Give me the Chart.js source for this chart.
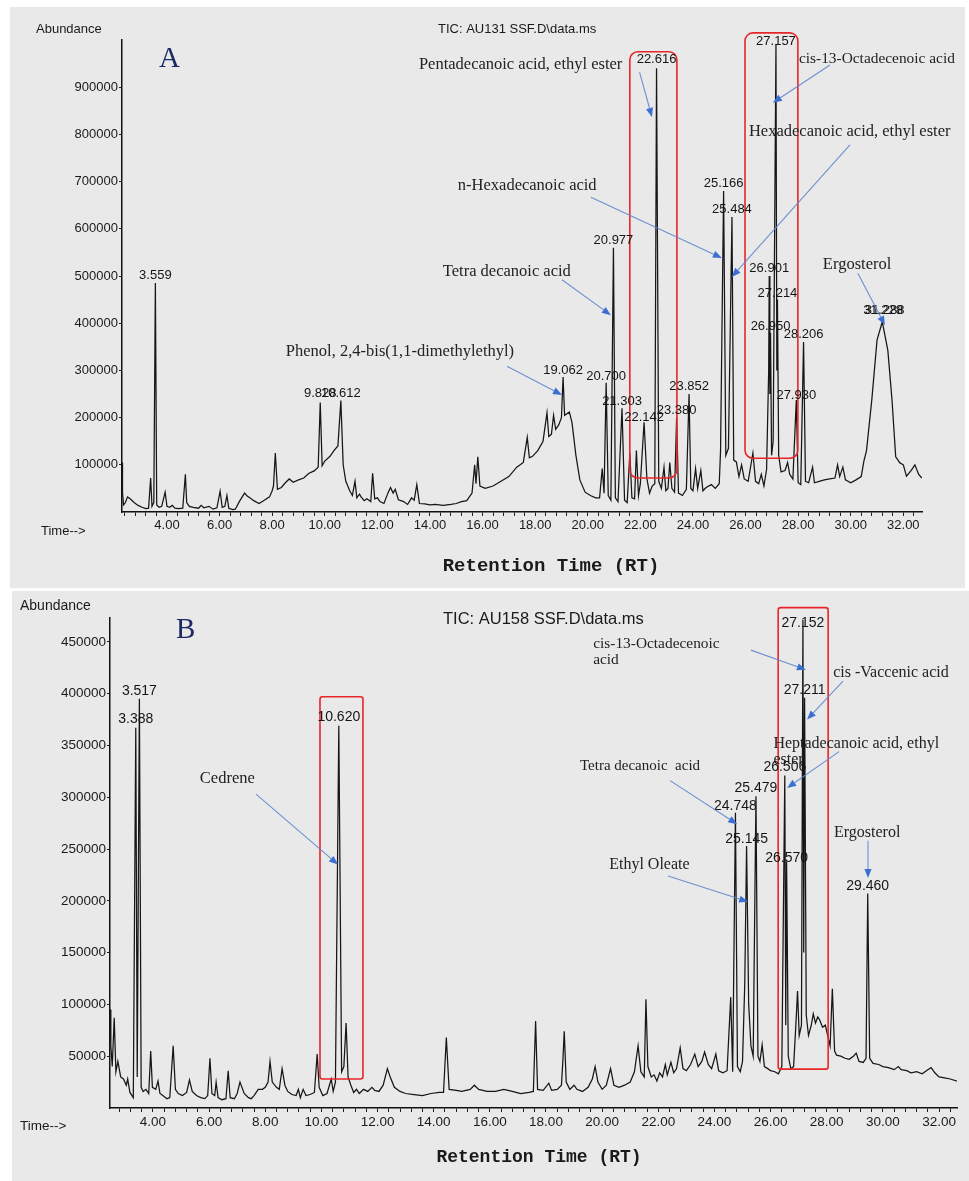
<!DOCTYPE html>
<html><head><meta charset="utf-8">
<script src="https://cdn.jsdelivr.net/npm/chart.js@4.4.1/dist/chart.umd.min.js"></script>
<style>
html,body{margin:0;padding:0;background:#fff;width:969px;height:1181px;overflow:hidden;}
.panel{position:absolute;background:#e9e9e9;}
#pA{left:10px;top:7px;width:955px;height:581px;}
#pB{left:12px;top:591px;width:957px;height:590px;}
canvas{position:absolute;left:0;}
#cA{top:0;} #cB{top:590px;}
</style></head><body>
<div class="panel" id="pA"></div><div class="panel" id="pB"></div>
<canvas id="cA" width="969" height="590"></canvas>
<canvas id="cB" width="969" height="591"></canvas>
<script>
// ---------- DATA ----------
// Panel A : TIC AU131 — retention time (min) and abundance
const rtA = [
 2.29,2.31,2.35,2.42,2.5,2.6,2.75,2.9,3.05,3.2,
 3.3,3.38,3.43,3.5,3.559,3.61,3.7,3.8,3.93,4.0,
 4.1,4.2,4.3,4.45,4.6,4.7,4.75,4.85,5.0,5.2,
 5.3,5.4,5.6,5.75,5.9,6.02,6.1,6.2,6.28,6.35,
 6.5,6.6,6.75,6.95,7.05,7.15,7.3,7.5,7.7,7.9,
 8.0,8.05,8.12,8.2,8.35,8.5,8.65,8.8,9.0,9.2,
 9.4,9.6,9.75,9.828,9.9,10.0,10.2,10.35,10.5,10.612,
 10.7,10.8,10.95,11.05,11.15,11.22,11.32,11.38,11.5,11.6,
 11.75,11.82,11.9,12.0,12.1,12.25,12.4,12.5,12.6,12.68,
 12.8,13.0,13.15,13.3,13.4,13.5,13.6,13.8,14.0,14.2,
 14.5,14.8,15.0,15.2,15.4,15.6,15.7,15.75,15.82,15.9,
 16.1,16.4,16.7,17.0,17.3,17.55,17.7,17.78,17.9,18.1,
 18.3,18.45,18.52,18.62,18.7,18.78,18.9,19.0,19.062,19.12,
 19.3,19.4,19.55,19.7,19.9,20.1,20.3,20.45,20.55,20.62,
 20.7,20.78,20.88,20.977,21.05,21.15,21.303,21.4,21.5,21.6,
 21.68,21.78,21.85,21.93,22.0,22.142,22.25,22.35,22.45,22.55,
 22.616,22.7,22.8,22.9,22.97,23.05,23.12,23.2,23.3,23.38,
 23.45,23.6,23.75,23.852,23.92,24.0,24.1,24.18,24.3,24.38,
 24.5,24.7,24.85,25.0,25.05,25.166,25.25,25.35,25.484,25.55,
 25.65,25.75,25.85,25.95,26.1,26.28,26.38,26.5,26.6,26.7,
 26.8,26.88,26.901,26.925,26.95,26.99,27.05,27.157,27.19,27.214,
 27.26,27.35,27.5,27.6,27.68,27.8,27.93,28.0,28.1,28.206,
 28.28,28.4,28.55,28.62,28.8,29.0,29.2,29.4,29.5,29.58,
 29.7,29.8,30.0,30.2,30.4,30.5,30.6,30.8,31.0,31.2,
 31.41,31.57,31.71,31.87,32.0,32.12,32.3,32.44,32.58,32.7
];
const abA = [
 105000,40000,15000,20000,32000,28000,20000,14000,10000,7000,
 8000,72000,12000,20000,485000,15000,10000,12000,42000,12000,
 10000,14000,8000,7000,8000,80000,20000,12000,10000,8000,
 14000,9000,12000,6000,9000,44000,10000,12000,35000,8000,
 5000,6000,22000,40000,34000,30000,24000,18000,25000,32000,
 45000,55000,125000,48000,52000,62000,70000,63000,68000,72000,
 82000,87000,95000,232000,98000,108000,118000,130000,140000,236000,
 100000,65000,45000,35000,65000,30000,38000,32000,24000,28000,
 22000,82000,28000,30000,22000,18000,40000,52000,40000,48000,
 26000,22000,16000,30000,25000,58000,18000,17000,15000,16000,
 14000,16000,18000,22000,24000,40000,100000,60000,117000,55000,
 50000,55000,65000,75000,95000,105000,158000,115000,118000,130000,
 150000,210000,160000,165000,205000,175000,185000,200000,286000,205000,
 212000,190000,120000,68000,42000,35000,30000,30000,92000,40000,
 274000,35000,25000,560000,30000,22000,220000,25000,20000,125000,
 30000,28000,130000,35000,60000,190000,70000,40000,55000,60000,
 940000,65000,50000,95000,45000,50000,105000,50000,42000,200000,
 40000,35000,48000,250000,50000,45000,92000,50000,88000,45000,
 52000,58000,50000,60000,130000,680000,120000,135000,625000,110000,
 106000,75000,100000,70000,65000,125000,65000,60000,80000,55000,
 90000,300000,500000,250000,380000,120000,150000,990000,300000,450000,
 120000,85000,88000,105000,80000,70000,237000,62000,58000,360000,
 65000,62000,95000,62000,65000,68000,70000,72000,100000,75000,
 95000,68000,62000,68000,75000,108000,130000,237000,364000,403000,
 343000,237000,117000,104000,100000,76000,88000,100000,80000,72000
];
// Panel B : TIC AU158
const rtB = [
 2.47,2.5,2.55,2.62,2.68,2.75,2.85,2.95,3.05,3.1,
 3.18,3.3,3.388,3.44,3.517,3.58,3.65,3.75,3.85,3.92,
 3.98,4.1,4.18,4.25,4.35,4.5,4.6,4.72,4.8,4.9,
 5.05,5.2,5.3,5.4,5.55,5.7,5.85,5.95,6.03,6.1,
 6.2,6.25,6.32,6.45,6.6,6.68,6.75,6.9,7.0,7.1,
 7.25,7.4,7.5,7.6,7.75,7.9,8.0,8.1,8.17,8.25,
 8.4,8.5,8.6,8.7,8.8,8.95,9.1,9.18,9.25,9.35,
 9.45,9.6,9.75,9.85,9.92,10.05,10.2,10.35,10.42,10.5,
 10.62,10.72,10.8,10.88,10.95,11.05,11.15,11.25,11.35,11.5,
 11.65,11.8,11.9,12.05,12.2,12.35,12.45,12.6,12.8,13.0,
 13.3,13.6,13.9,14.2,14.35,14.45,14.55,14.8,15.0,15.3,
 15.45,15.6,15.9,16.2,16.5,16.8,17.1,17.4,17.55,17.63,
 17.7,17.9,18.1,18.2,18.4,18.55,18.6,18.65,18.72,18.85,
 19.0,19.1,19.3,19.5,19.65,19.75,19.85,20.0,20.15,20.3,
 20.42,20.6,20.8,21.0,21.15,21.28,21.38,21.5,21.56,21.63,
 21.75,21.85,21.95,22.05,22.15,22.25,22.32,22.45,22.55,22.65,
 22.78,22.88,23.0,23.15,23.3,23.42,23.55,23.65,23.78,23.9,
 24.05,24.15,24.3,24.45,24.58,24.65,24.748,24.82,24.92,25.0,
 25.08,25.145,25.22,25.3,25.38,25.479,25.55,25.62,25.7,25.78,
 25.9,26.0,26.15,26.28,26.4,26.506,26.54,26.57,26.63,26.72,
 26.82,26.9,26.96,27.02,27.1,27.152,27.18,27.211,27.27,27.35,
 27.45,27.52,27.6,27.68,27.75,27.85,27.95,28.05,28.12,28.2,
 28.28,28.35,28.5,28.65,28.8,28.95,29.05,29.15,29.3,29.4,
 29.46,29.53,29.65,29.85,30.0,30.2,30.4,30.55,30.65,30.85,
 31.0,31.2,31.4,31.6,31.72,31.85,32.0,32.2,32.4,32.64
];
const abB = [
 95000,60000,40000,87000,35000,45000,30000,28000,22000,28000,
 15000,10000,367000,30000,395000,20000,16000,18000,14000,55000,
 20000,18000,26000,14000,12000,9000,10000,60000,18000,14000,
 12000,15000,27000,16000,12000,10000,9000,12000,48000,14000,
 12000,25000,10000,8000,9000,36000,10000,9000,14000,25000,
 14000,10000,9000,12000,18000,18000,20000,25000,45000,25000,
 20000,18000,38000,22000,16000,13000,12000,18000,10000,18000,
 12000,13000,15000,52000,20000,12000,14000,28000,16000,25000,
 369000,35000,40000,82000,30000,22000,15000,18000,14000,18000,
 16000,20000,17000,16000,22000,38000,30000,20000,16000,14000,
 13000,12000,14000,15000,15000,68000,18000,17000,16000,18000,
 22000,18000,16000,16000,18000,16000,14000,15000,16000,84000,
 18000,17000,24000,17000,18000,22000,45000,74000,25000,18000,
 22000,18000,16000,20000,28000,40000,25000,18000,22000,38000,
 22000,20000,22000,25000,35000,60000,35000,30000,105000,40000,
 30000,32000,26000,34000,30000,42000,32000,44000,34000,38000,
 58000,38000,36000,42000,52000,40000,45000,54000,42000,38000,
 52000,36000,34000,36000,107000,35000,285000,40000,35000,45000,
 120000,253000,100000,60000,50000,301000,50000,45000,61000,40000,
 38000,36000,35000,33000,40000,321000,80000,238000,50000,38000,
 40000,80000,113000,70000,80000,471000,150000,396000,90000,70000,
 80000,91000,82000,88000,85000,78000,80000,68000,60000,115000,
 55000,51000,50000,48000,47000,50000,53000,45000,44000,48000,
 207000,48000,43000,42000,40000,39000,37000,40000,37000,36000,
 34000,35000,33000,37000,39000,34000,30000,29000,28000,26000
];
// tick labels
const xTickLabels = ['4.00','6.00','8.00','10.00','12.00','14.00','16.00','18.00','20.00','22.00','24.00','26.00','28.00','30.00','32.00'];
const yTickLabelsA = ['100000','200000','300000','400000','500000','600000','700000','800000','900000'];
const yTickLabelsB = ['50000','100000','150000','200000','250000','300000','350000','400000','450000'];
// peak retention-time labels and the abundance level at which each label sits
const peakLabelsA = ['3.559','9.828','10.612','19.062','20.700','20.977','21.303','22.142','22.616','23.380','23.852','25.166','25.484','26.901','26.950','27.157','27.214','27.930','28.206','31.228','31.288'];
const peakLabelAbA = [502000,252000,252000,301000,288000,576000,235000,201000,958000,216000,267000,697000,642000,517000,394000,998000,464000,248000,377000,428000,428000];
const peakLabelsB = ['3.517','3.388','10.620','24.748','25.145','25.479','26.506','26.570','27.152','27.211','29.460'];
const peakLabelAbB = [402000,375000,377000,291000,260000,309000,329000,241000,468000,403000,214000];
// compound names
const compoundsA = ['Pentadecanoic acid, ethyl ester','cis-13-Octadecenoic acid','Hexadecanoic acid, ethyl ester','n-Hexadecanoic acid','Tetra decanoic acid','Phenol, 2,4-bis(1,1-dimethylethyl)','Ergosterol'];
const compoundsB = ['cis-13-Octadecenoic\nacid','cis -Vaccenic acid','Heptadecanoic acid, ethyl\nester','Tetra decanoic  acid','Ethyl Oleate','Cedrene','Ergosterol'];
// highlighted retention windows [rtStart, rtEnd, abTop, abBottom]
const boxesA = [[21.60,23.39,975000,72000],[25.98,27.99,1015000,114000]];
const boxesB = [[9.95,11.48,397000,28000],[26.27,28.05,483000,37500]];

// ---------- annotation placement (data coordinates: text anchor, arrow start -> arrow tip) ----------
const notesA = [
 {t:13.58,v:947000, a:[21.97,932000,22.44,837000]},
 {t:28.03,v:960000, a:[29.21,947000,27.04,867000], fs:15.4},
 {t:26.13,v:805000, a:[29.97,778000,25.48,498000]},
 {t:15.06,v:691000, a:[20.12,667000,25.10,538000]},
 {t:14.49,v:509000, a:[19.02,492000,20.88,417000]},
 {t:8.52, v:339000, a:[16.93,309000,19.02,248000]},
 {t:28.94,v:523000, a:[30.27,506000,31.30,396000]}
];
const notesB = [
 {t:19.68,v:448000, a:[25.30,442000,27.26,423000], fs:15.4},
 {t:28.23,v:420000, a:[28.58,412000,27.30,375000]},
 {t:26.10,v:352000, a:[28.44,344000,26.59,309000]},
 {t:19.21,v:330000, a:[22.42,316000,24.81,274000], fs:15},
 {t:20.25,v:235000, a:[22.35,224000,25.20,199000]},
 {t:5.67, v:318000, a:[7.67,303000,10.59,235000], fs:16.5},
 {t:28.26,v:266000, a:[29.47,258000,29.47,222000]}
];

// ---------- drawing helpers ----------
Chart.defaults.font.family = "'Liberation Sans', Arial, sans-serif";
Chart.defaults.color = '#1a1a1a';

function drawArrow(ctx,x1,y1,x2,y2){
  const ang=Math.atan2(y2-y1,x2-x1), L=9, W=3.6;
  const bx=x2-L*Math.cos(ang), by=y2-L*Math.sin(ang);
  ctx.save();
  ctx.strokeStyle='rgba(95,135,205,0.9)'; ctx.lineWidth=1.1;
  ctx.beginPath(); ctx.moveTo(x1,y1); ctx.lineTo(bx,by); ctx.stroke();
  ctx.fillStyle='#3b6fd2';
  ctx.beginPath(); ctx.moveTo(x2,y2);
  ctx.lineTo(bx-W*Math.sin(ang), by+W*Math.cos(ang));
  ctx.lineTo(bx+W*Math.sin(ang), by-W*Math.cos(ang));
  ctx.closePath(); ctx.fill();
  ctx.restore();
}
function roundBox(ctx,x1,y1,x2,y2,r){
  ctx.beginPath();
  ctx.moveTo(x1+r,y1); ctx.lineTo(x2-r,y1); ctx.arcTo(x2,y1,x2,y1+r,r);
  ctx.lineTo(x2,y2-r); ctx.arcTo(x2,y2,x2-r,y2,r);
  ctx.lineTo(x1+r,y2); ctx.arcTo(x1,y2,x1,y2-r,r);
  ctx.lineTo(x1,y1+r); ctx.arcTo(x1,y1,x1+r,y1,r);
  ctx.closePath(); ctx.stroke();
}

function makeOverlay(cfg){
  return {
    id:'overlay',
    afterDraw(chart){
      const ctx=chart.ctx, xs=chart.scales.x, ys=chart.scales.y;
      const X=t=>xs.getPixelForValue(t), Y=v=>ys.getPixelForValue(v);
      ctx.save();
      ctx.strokeStyle='#e8262a'; ctx.lineWidth=1.6;
      cfg.boxes.forEach(b=>roundBox(ctx,X(b[0]),Y(b[2]),X(b[1]),Y(b[3]),cfg.boxR));
      ctx.fillStyle='#151515'; ctx.font=cfg.peakFont; ctx.textAlign='center'; ctx.textBaseline='middle';
      cfg.peaks.forEach((p,i)=>ctx.fillText(p, X(parseFloat(p)), Y(cfg.peakAb[i])));
      ctx.textAlign='left'; ctx.fillStyle='#222';
      cfg.names.forEach((n,i)=>{
        const nt=cfg.notes[i];
        ctx.font=(nt.fs||cfg.noteSize)+"px 'Liberation Serif', serif";
        n.split('\n').forEach((line,k)=>ctx.fillText(line, X(nt.t), Y(nt.v)+k*cfg.lineH));
        drawArrow(ctx,X(nt.a[0]),Y(nt.a[1]),X(nt.a[2]),Y(nt.a[3]));
      });
      cfg.texts.forEach(tx=>{
        ctx.font=tx.font; ctx.textAlign=tx.align||'left'; ctx.textBaseline=tx.base||'middle';
        ctx.fillStyle=tx.color||'#1a1a1a';
        ctx.fillText(tx.s,tx.x,tx.y);
      });
      ctx.restore();
    }
  };
}

const minorX=[]; for(let k=0;k<=76;k++){ const v=Math.round((2.4+k*0.4)*10)/10; if(v<=32.7) minorX.push(v); }

function makeChart(id, rt, ab, opt){
  const data = rt.map((t,i)=>({x:t,y:ab[i]}));
  return new Chart(document.getElementById(id),{
    type:'line',
    data:{datasets:[{data, borderColor:'#161616', borderWidth:1.25, pointRadius:0, tension:0, fill:false}]},
    options:{
      responsive:false, animation:false, events:[],
      layout:{padding:opt.pad},
      plugins:{legend:{display:false},tooltip:{enabled:false},title:{display:false}},
      scales:{
        x:{type:'linear', min:opt.xmin, max:opt.xmax,
           afterBuildTicks:s=>{ s.ticks=minorX.filter(v=>v>=opt.xmin&&v<=opt.xmax).map(v=>({value:v})); },
           afterFit:s=>{ s.height=opt.xh; },
           ticks:{autoSkip:false,maxRotation:0,minRotation:0,padding:2,font:{size:opt.xfs},color:'#1a1a1a',
             callback:v=>{ const lab=xTickLabels.find(l=>Math.abs(parseFloat(l)-v)<1e-6); return lab||''; }},
           grid:{display:true,drawOnChartArea:false,drawTicks:true,tickLength:4,color:'#222',lineWidth:1},
           border:{display:true,color:'#111',width:1.4}},
        y:{type:'linear', min:0, max:opt.ymax,
           afterBuildTicks:s=>{ s.ticks=opt.ylabels.map(l=>({value:parseFloat(l)})); },
           afterFit:s=>{ s.width=opt.yw; },
           ticks:{autoSkip:false,padding:1,font:{size:opt.yfs},color:'#1a1a1a',
             callback:v=>{ const lab=opt.ylabels.find(l=>parseFloat(l)===v); return lab||''; }},
           grid:{display:true,drawOnChartArea:false,drawTicks:true,tickLength:3,color:'#222',lineWidth:1},
           border:{display:true,color:'#111',width:1.5}}
      }
    },
    plugins:[makeOverlay(opt.overlay)]
  });
}

makeChart('cA', rtA, abA, {
  pad:{top:40,right:47,bottom:0,left:0}, xmin:2.29, xmax:32.71, ymax:1000000, xh:78, yw:122, xfs:13, yfs:13,
  ylabels:yTickLabelsA,
  overlay:{boxes:boxesA, boxR:8, peaks:peakLabelsA, peakAb:peakLabelAbA, peakFont:"13px 'Liberation Sans', Arial",
    names:compoundsA, notes:notesA, noteSize:16.5, lineH:16,
    texts:[
      {s:'Abundance', x:36, y:29, font:"13px 'Liberation Sans', Arial"},
      {s:'TIC: AU131 SSF.D\\data.ms', x:438, y:29, font:"13px 'Liberation Sans', Arial"},
      {s:'A', x:159, y:67, base:'alphabetic', font:"29px 'Liberation Serif', serif", color:'#1c2a66'},
      {s:'Time-->', x:41, y:531, font:"13px 'Liberation Sans', Arial"},
      {s:'Retention Time (RT)', x:551, y:566, align:'center', font:"bold 19px 'Liberation Mono', 'Courier New', monospace"}
    ]}
});
makeChart('cB', rtB, abB, {
  pad:{top:28,right:12,bottom:0,left:0}, xmin:2.47, xmax:32.64, ymax:473000, xh:73, yw:110, xfs:13.5, yfs:13.5,
  ylabels:yTickLabelsB,
  overlay:{boxes:boxesB, boxR:2.5, peaks:peakLabelsB, peakAb:peakLabelAbB, peakFont:"14px 'Liberation Sans', Arial",
    names:compoundsB, notes:notesB, noteSize:16, lineH:16,
    texts:[
      {s:'Abundance', x:20, y:16, font:"14px 'Liberation Sans', Arial"},
      {s:'TIC: AU158 SSF.D\\data.ms', x:443, y:29, font:"16.5px 'Liberation Sans', Arial"},
      {s:'B', x:176, y:48, base:'alphabetic', font:"29px 'Liberation Serif', serif", color:'#1c2a66'},
      {s:'Time-->', x:20, y:536, font:"13.5px 'Liberation Sans', Arial"},
      {s:'Retention Time (RT)', x:539, y:567, align:'center', font:"bold 18px 'Liberation Mono', 'Courier New', monospace"}
    ]}
});
</script>
</body></html>
